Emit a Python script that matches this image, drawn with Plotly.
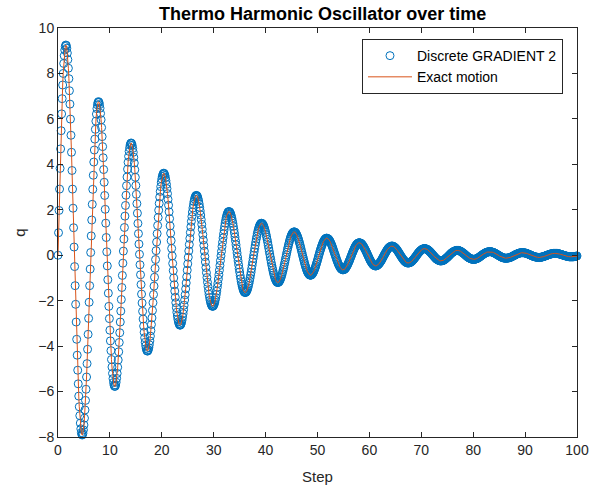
import plotly.graph_objects as go

# Sampling of the time axis (one marker every 0.1)
step_start = 0.0
step_size = 0.1

# q values, one per 0.1 step from 0 to 100
q_exact = [
    0.00, 0.99, 1.97, 2.91, 3.82, 4.68, 5.48, 6.22, 6.89, 7.49,
    8.00, 8.44, 8.78, 9.03, 9.19, 9.25, 9.23, 9.11, 8.90, 8.61,
    8.23, 7.77, 7.24, 6.65, 5.99, 5.28, 4.53, 3.73, 2.91, 2.07,
    1.21, 0.36, -0.50, -1.34, -2.16, -2.94, -3.70, -4.40, -5.06, -5.66,
    -6.20, -6.67, -7.06, -7.39, -7.64, -7.81, -7.90, -7.91, -7.84, -7.69,
    -7.47, -7.17, -6.81, -6.39, -5.90, -5.36, -4.77, -4.14, -3.48, -2.78,
    -2.07, -1.34, -0.61,
    0.12, 0.85, 1.55, 2.24, 2.90, 3.52, 4.10,
    4.63, 5.11, 5.54, 5.90, 6.21, 6.45, 6.62, 6.72, 6.76, 6.73,
    6.63, 6.47, 6.24, 5.96, 5.62, 5.22, 4.78, 4.29, 3.77, 3.21,
    2.63, 2.02, 1.41, 0.78, 0.15, -0.47, -1.08, -1.67, -2.25, -2.79,
    -3.30, -3.77, -4.20, -4.59, -4.92, -5.20, -5.43, -5.60, -5.72, -5.77,
    -5.77, -5.71, -5.59, -5.42, -5.20, -4.93, -4.61, -4.25, -3.84, -3.41,
    -2.94, -2.46, -1.95, -1.42, -0.89, -0.35,
    0.18, 0.71, 1.22, 1.72,
    2.19, 2.64, 3.06, 3.44, 3.79, 4.09, 4.35, 4.57, 4.73, 4.85,
    4.92, 4.94, 4.91, 4.83, 4.70, 4.53, 4.31, 4.06, 3.76, 3.43,
    3.07, 2.68, 2.27, 1.85, 1.40, 0.95, 0.49, 0.04, -0.42, -0.86,
    -1.29, -1.71, -2.10, -2.47, -2.81, -3.12, -3.39, -3.63, -3.83, -3.99,
    -4.11, -4.19, -4.22, -4.21, -4.16, -4.07, -3.94, -3.77, -3.56, -3.32,
    -3.05, -2.76, -2.43, -2.09, -1.73, -1.36, -0.97, -0.58, -0.19,
    0.20,
    0.58, 0.95, 1.31, 1.66, 1.98, 2.28, 2.56, 2.81, 3.02, 3.21,
    3.36, 3.47, 3.55, 3.60, 3.61, 3.58, 3.51, 3.41, 3.28, 3.12,
    2.93, 2.71, 2.46, 2.20, 1.91, 1.61, 1.29, 0.97, 0.64, 0.30,
    -0.03, -0.36, -0.68, -1.00, -1.30, -1.58, -1.85, -2.09, -2.31, -2.51,
    -2.68, -2.82, -2.93, -3.01, -3.06, -3.08, -3.07, -3.03, -2.96, -2.86,
    -2.73, -2.57, -2.40, -2.20, -1.97, -1.74, -1.48, -1.22, -0.95, -0.66,
    -0.38, -0.09,
    0.19, 0.47, 0.74, 1.00, 1.25, 1.49, 1.70, 1.90,
    2.08, 2.23, 2.36, 2.47, 2.55, 2.60, 2.63, 2.63, 2.61, 2.56,
    2.48, 2.38, 2.26, 2.11, 1.95, 1.77, 1.57, 1.36, 1.14, 0.91,
    0.67, 0.43, 0.18, -0.06, -0.30, -0.54, -0.77, -0.98, -1.19, -1.38,
    -1.56, -1.72, -1.86, -1.98, -2.08, -2.15, -2.21, -2.24, -2.25, -2.24,
    -2.20, -2.15, -2.07, -1.97, -1.86, -1.73, -1.58, -1.41, -1.24, -1.05,
    -0.86, -0.66, -0.45, -0.24, -0.03,
    0.17, 0.38, 0.57, 0.76, 0.94,
    1.11, 1.27, 1.41, 1.54, 1.65, 1.74, 1.81, 1.87, 1.91, 1.92,
    1.92, 1.90, 1.86, 1.80, 1.72, 1.63, 1.52, 1.40, 1.27, 1.12,
    0.97, 0.80, 0.63, 0.46, 0.28, 0.10, -0.08, -0.25, -0.42, -0.59,
    -0.74, -0.89, -1.03, -1.16, -1.27, -1.37, -1.46, -1.53, -1.58, -1.62,
    -1.64, -1.64, -1.63, -1.60, -1.56, -1.50, -1.43, -1.34, -1.24, -1.13,
    -1.01, -0.88, -0.75, -0.60, -0.45, -0.30, -0.15,
    0.00, 0.15, 0.30,
    0.44, 0.58, 0.71, 0.83, 0.95, 1.05, 1.14, 1.22, 1.28, 1.33,
    1.37, 1.40, 1.41, 1.40, 1.38, 1.35, 1.31, 1.25, 1.18, 1.10,
    1.01, 0.91, 0.80, 0.69, 0.57, 0.44, 0.31, 0.18, 0.05, -0.08,
    -0.20, -0.33, -0.45, -0.56, -0.67, -0.77, -0.86, -0.94, -1.01, -1.07,
    -1.12, -1.16, -1.19, -1.20, -1.20, -1.19, -1.17, -1.13, -1.09, -1.03,
    -0.97, -0.89, -0.81, -0.72, -0.63, -0.53, -0.42, -0.31, -0.20, -0.09,
    0.02, 0.13, 0.24, 0.34, 0.44, 0.53, 0.62, 0.70, 0.78, 0.84,
    0.90, 0.94, 0.98, 1.00, 1.02, 1.03, 1.02, 1.01, 0.98, 0.95,
    0.90, 0.85, 0.79, 0.73, 0.65, 0.57, 0.49, 0.40, 0.31, 0.21,
    0.12, 0.02, -0.07, -0.16, -0.25, -0.34, -0.42, -0.50, -0.57, -0.64,
    -0.70, -0.75, -0.79, -0.82, -0.85, -0.87, -0.88, -0.88, -0.87, -0.85,
    -0.82, -0.79, -0.75, -0.70, -0.64, -0.58, -0.52, -0.45, -0.37, -0.30,
    -0.22, -0.14, -0.05,
    0.03, 0.11, 0.19, 0.26, 0.33, 0.40, 0.46,
    0.52, 0.58, 0.62, 0.66, 0.69, 0.72, 0.74, 0.75, 0.75, 0.74,
    0.73, 0.71, 0.69, 0.65, 0.62, 0.57, 0.52, 0.47, 0.41, 0.35,
    0.28, 0.21, 0.14, 0.07, 0.01, -0.06, -0.13, -0.20, -0.26, -0.32,
    -0.38, -0.43, -0.47, -0.52, -0.55, -0.58, -0.61, -0.62, -0.64, -0.64,
    -0.64, -0.63, -0.62, -0.60, -0.57, -0.54, -0.50, -0.46, -0.42, -0.37,
    -0.32, -0.26, -0.21, -0.15, -0.09, -0.03,
    0.03, 0.09, 0.14, 0.20,
    0.25, 0.30, 0.35, 0.39, 0.43, 0.46, 0.49, 0.51, 0.53, 0.54,
    0.55, 0.55, 0.54, 0.53, 0.52, 0.50, 0.47, 0.44, 0.41, 0.37,
    0.33, 0.29, 0.24, 0.20, 0.15, 0.10, 0.05, 0.00, -0.05, -0.10,
    -0.15, -0.20, -0.24, -0.28, -0.32, -0.35, -0.38, -0.41, -0.43, -0.45,
    -0.46, -0.47, -0.47, -0.47, -0.46, -0.45, -0.43, -0.41, -0.39, -0.36,
    -0.33, -0.30, -0.26, -0.23, -0.19, -0.14, -0.10, -0.06, -0.01,
    0.03,
    0.07, 0.11, 0.15, 0.19, 0.23, 0.26, 0.29, 0.32, 0.34, 0.36,
    0.37, 0.39, 0.40, 0.40, 0.40, 0.40, 0.39, 0.38, 0.36, 0.34,
    0.32, 0.30, 0.27, 0.24, 0.21, 0.17, 0.14, 0.10, 0.06, 0.03,
    -0.01, -0.05, -0.08, -0.12, -0.15, -0.18, -0.21, -0.24, -0.26, -0.28,
    -0.30, -0.32, -0.33, -0.34, -0.34, -0.34, -0.34, -0.33, -0.33, -0.31,
    -0.30, -0.28, -0.26, -0.24, -0.21, -0.19, -0.16, -0.13, -0.10, -0.07,
    -0.04, -0.01,
    0.03, 0.06, 0.09, 0.12, 0.14, 0.17, 0.19, 0.21,
    0.23, 0.25, 0.26, 0.28, 0.28, 0.29, 0.29, 0.29, 0.29, 0.28,
    0.27, 0.26, 0.25, 0.23, 0.21, 0.19, 0.17, 0.15, 0.12, 0.10,
    0.07, 0.04, 0.02, -0.01, -0.04, -0.06, -0.09, -0.11, -0.14, -0.16,
    -0.18, -0.19, -0.21, -0.22, -0.23, -0.24, -0.25, -0.25, -0.25, -0.25,
    -0.24, -0.24, -0.23, -0.22, -0.20, -0.19, -0.17, -0.15, -0.13, -0.11,
    -0.09, -0.07, -0.05, -0.02,
    0.00, 0.02, 0.05, 0.07, 0.09, 0.11,
    0.13, 0.14, 0.16, 0.17, 0.18, 0.19, 0.20, 0.21, 0.21, 0.21,
    0.21, 0.21, 0.21, 0.20, 0.19, 0.18, 0.17, 0.15, 0.14, 0.12,
    0.10, 0.09, 0.07, 0.05, 0.03, 0.01, -0.01, -0.03, -0.05, -0.07,
    -0.09, -0.10, -0.12, -0.13, -0.14, -0.15, -0.16, -0.17, -0.18, -0.18,
    -0.18, -0.18, -0.18, -0.18, -0.17, -0.17, -0.16, -0.15, -0.14, -0.12,
    -0.11, -0.10, -0.08, -0.06, -0.05, -0.03, -0.01,
    0.00, 0.02, 0.04,
    0.05, 0.07, 0.08, 0.09, 0.11, 0.12, 0.13, 0.14, 0.14, 0.15,
    0.15, 0.15, 0.16, 0.16, 0.15, 0.15, 0.14, 0.14, 0.13, 0.12,
    0.11, 0.10, 0.09, 0.07, 0.06, 0.05, 0.03, 0.02, 0.00, -0.01,
    -0.02, -0.04, -0.05, -0.06, -0.08, -0.09, -0.10, -0.11, -0.11, -0.12,
    -0.13, -0.13, -0.13, -0.13, -0.13, -0.13, -0.13, -0.12, -0.12, -0.11,
    -0.11, -0.10, -0.09, -0.08, -0.07, -0.06, -0.04, -0.03, -0.02, -0.01,
    0.00, 0.02, 0.03, 0.04, 0.05, 0.06, 0.07, 0.08, 0.09, 0.09,
    0.10, 0.11, 0.11, 0.11, 0.11, 0.11, 0.11, 0.11, 0.11, 0.10,
    0.10, 0.09, 0.09, 0.08, 0.07, 0.06, 0.05, 0.04, 0.03, 0.02,
    0.01, 0.00, -0.01, -0.02, -0.03, -0.04, -0.05, -0.06, -0.06, -0.07,
    -0.08, -0.08, -0.09, -0.09, -0.09, -0.10, -0.10, -0.10, -0.10, -0.09,
    -0.09, -0.09, -0.08, -0.08, -0.07, -0.06, -0.06, -0.05, -0.04, -0.03,
    -0.02, -0.01, 0.00,
    0.00, 0.01, 0.02, 0.03, 0.04, 0.05, 0.05,
    0.06, 0.06, 0.07, 0.07, 0.08, 0.08, 0.08, 0.08, 0.08, 0.08,
    0.08, 0.08, 0.08, 0.07, 0.07, 0.06, 0.06, 0.05, 0.04, 0.04,
    0.03, 0.02, 0.01, 0.01, 0.00, -0.01, -0.02, -0.02, -0.03, -0.04,
    -0.04, -0.05, -0.05, -0.06, -0.06, -0.07, -0.07, -0.07, -0.07, -0.07,
    -0.07, -0.07, -0.07, -0.07, -0.06, -0.06, -0.06, -0.05, -0.05, -0.04,
    -0.03,
]

# The discrete-gradient markers sit on the exact curve everywhere in the picture
q_discrete = list(q_exact)

x_ticks = [0, 10, 20, 30, 40, 50, 60, 70, 80, 90, 100]
y_ticks = [-8, -6, -4, -2, 0, 2, 4, 6, 8, 10]

title_text = "Thermo Harmonic Oscillator over time"
x_label = "Step"
y_label = "q"
series_names = ["Discrete GRADIENT 2", "Exact motion"]

BLUE = "#0072BD"
ORANGE = "#D95319"
AXIS = "#262626"
FONT = "Liberation Sans, Arial, Helvetica, sans-serif"

fig = go.Figure()
fig.add_trace(go.Scatter(
    y=q_discrete, x0=step_start, dx=step_size,
    mode="markers", name=series_names[0],
    marker=dict(symbol="circle-open", size=8, color=BLUE, line=dict(width=1, color=BLUE)),
    cliponaxis=False,
))
fig.add_trace(go.Scatter(
    y=q_exact, x0=step_start, dx=step_size,
    mode="lines", name=series_names[1],
    line=dict(color=ORANGE, width=1),
))

axis_common = dict(
    showline=True, linecolor=AXIS, linewidth=1, mirror="ticks",
    ticks="inside", ticklen=5, tickwidth=1, tickcolor=AXIS,
    showgrid=False, zeroline=False, automargin=False,
    tickfont=dict(family=FONT, size=14, color=AXIS),
)

fig.update_layout(
    width=592, height=493,
    margin=dict(l=58, r=15, t=28, b=56, autoexpand=False),
    paper_bgcolor="white", plot_bgcolor="white",
    font=dict(family=FONT, color=AXIS),
    title=dict(text="<b>" + title_text + "</b>", x=0.545, xanchor="center", xref="container",
               y=0.973, yanchor="middle", yref="container", automargin=False,
               font=dict(family=FONT, size=18, color="black")),
    xaxis=dict(range=[0, 100], tickvals=x_ticks,
               title=dict(text=x_label, font=dict(family=FONT, size=15, color=AXIS), standoff=14),
               **axis_common),
    yaxis=dict(range=[-8, 10], tickvals=y_ticks,
               title=dict(text=y_label, font=dict(family=FONT, size=15, color=AXIS), standoff=8),
               **axis_common),
    legend=dict(x=0.973, y=0.973, xanchor="right", yanchor="top",
                bgcolor="white", bordercolor=AXIS, borderwidth=1,
                font=dict(family=FONT, size=14, color="black"),
                itemwidth=44, tracegroupgap=0),
    showlegend=True,
)

fig.write_html("out.html", config={"displayModeBar": False},
               post_script="document.body.style.margin='0px';")
